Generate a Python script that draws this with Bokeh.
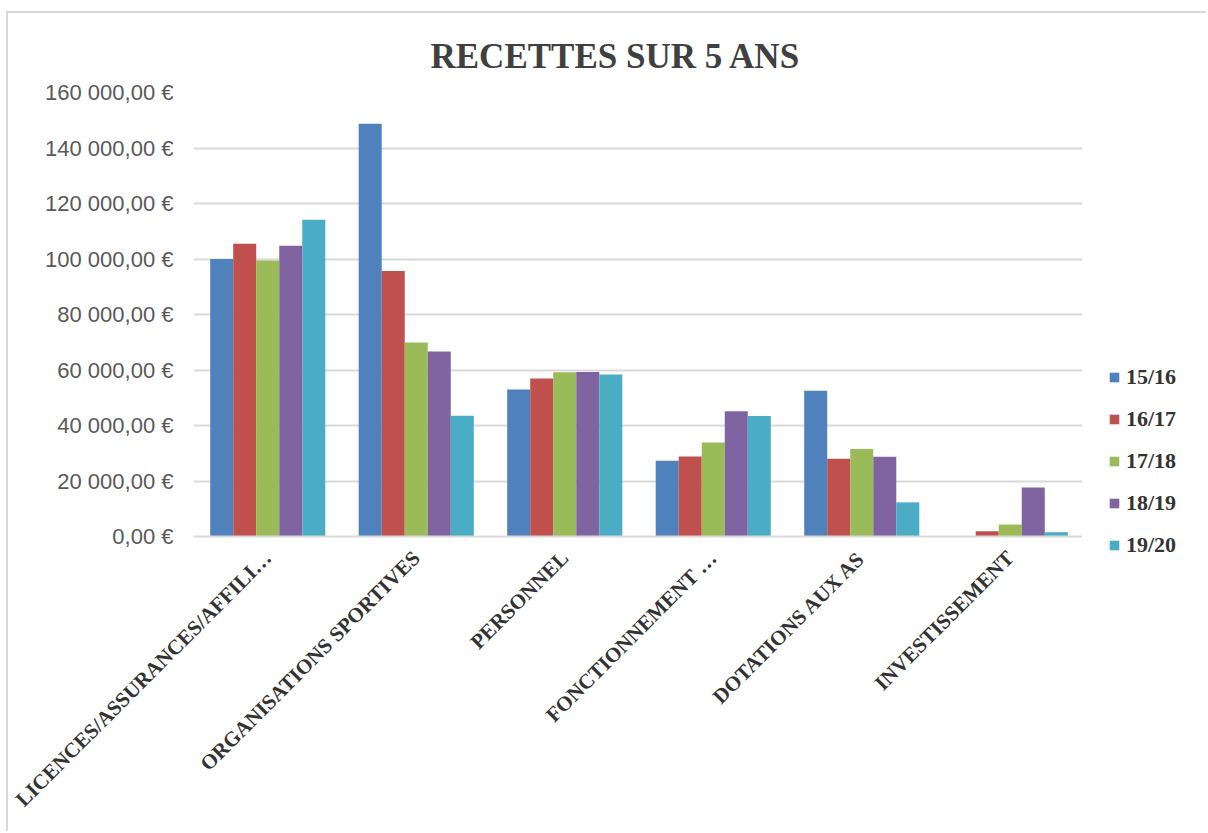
from math import pi
from bokeh.plotting import figure
from bokeh.layouts import row
from bokeh.models import FactorRange, Range1d, FixedTicker, Legend, LegendItem
from bokeh.transform import dodge
from bokeh.embed import file_html
from bokeh.resources import INLINE

categories = ["LICENCES/ASSURANCES/AFFILI…", "ORGANISATIONS SPORTIVES", "PERSONNEL",
              "FONCTIONNEMENT …", "DOTATIONS AUX AS", "INVESTISSEMENT"]
seasons = ["15/16", "16/17", "17/18", "18/19", "19/20"]
v_15_16 = [100000, 148700, 53000, 27300, 52500, 0]
v_16_17 = [105500, 95700, 56900, 28800, 28000, 1900]
v_17_18 = [99500, 69900, 59200, 33900, 31500, 4300]
v_18_19 = [104800, 66700, 59300, 45100, 28700, 17700]
v_19_20 = [114100, 43500, 58400, 43400, 12300, 1500]
y_ticks = [0, 20000, 40000, 60000, 80000, 100000, 120000, 140000, 160000]
y_tick_labels = ["0,00 €", "20 000,00 €", "40 000,00 €", "60 000,00 €", "80 000,00 €",
                 "100 000,00 €", "120 000,00 €", "140 000,00 €", "160 000,00 €"]
title_text = "RECETTES SUR 5 ANS"

series = [v_15_16, v_16_17, v_17_18, v_18_19, v_19_20]
colors = ["#4F81BD", "#C0504D", "#9BBB59", "#8064A2", "#4BACC6"]

data = {"cat": categories}
for s, vals in zip(seasons, series):
    data[s] = vals

border = "2px solid #d9d9d9"

p = figure(x_range=FactorRange(*categories, range_padding=0), y_range=Range1d(0, 160000),
           width=1076, height=820, output_backend="svg", toolbar_location=None,
           min_border_left=185, min_border_right=0, min_border_top=79, min_border_bottom=297,
           styles={"border-top": border, "border-left": border})
p.outline_line_color = None
p.background_fill_color = "white"
p.border_fill_color = "white"

p.title.text = title_text
p.title.align = "left"
p.title.offset = 237
p.title.standoff = 33
p.title.text_font = "Liberation Serif"
p.title.text_font_style = "bold"
p.title.text_font_size = "35px"
p.title.text_color = "#404040"

w = 0.155
for i, (s, c) in enumerate(zip(seasons, colors)):
    p.vbar(x=dodge("cat", (i - 2) * w, range=p.x_range), top=s, width=w, source=data,
           fill_color=c, line_color=None)

# axes
p.yaxis.ticker = FixedTicker(ticks=y_ticks)
p.yaxis.major_label_overrides = {t: l for t, l in zip(y_ticks, y_tick_labels)}
p.yaxis.axis_line_color = None
p.yaxis.major_tick_line_color = None
p.yaxis.major_tick_out = 0
p.yaxis.major_tick_in = 0
p.yaxis.minor_tick_line_color = None
p.yaxis.major_label_standoff = 20
p.yaxis.major_label_text_font = "Liberation Sans"
p.yaxis.major_label_text_font_size = "22px"
p.yaxis.major_label_text_color = "#595959"

p.xaxis.axis_line_color = "#d9d9d9"
p.xaxis.axis_line_width = 2
p.xaxis.major_tick_line_color = None
p.xaxis.major_tick_out = 0
p.xaxis.major_tick_in = 0
p.xaxis.minor_tick_line_color = None
p.xaxis.major_label_orientation = pi / 4
p.xaxis.major_label_standoff = 18
p.xaxis.major_label_text_font = "Liberation Serif"
p.xaxis.major_label_text_font_style = "bold"
p.xaxis.major_label_text_font_size = "21px"
p.xaxis.major_label_text_color = "#333333"

p.xgrid.grid_line_color = None
p.ygrid.grid_line_color = "#d9d9d9"
p.ygrid.grid_line_width = 2

# legend panel (separate narrow figure on the right)
pl = figure(x_range=Range1d(0, 1), y_range=Range1d(0, 1), width=124, height=820,
            output_backend="svg", toolbar_location=None, title=None,
            min_border_left=0, min_border_right=0, min_border_top=0, min_border_bottom=0,
            styles={"border-top": border})
pl.frame_align = False
pl.axis.visible = False
pl.grid.visible = False
pl.outline_line_color = None
pl.border_fill_color = "white"
items = []
for s, c in zip(seasons, colors):
    # zero-height swatch source (only used for the legend key)
    r = pl.vbar(x=[-5], top=[0], width=0.1, fill_color=c, line_color=None)
    items.append(LegendItem(label=s, renderers=[r]))

legend = Legend(items=items, location=(26, 273), padding=0, margin=0, spacing=12,
                glyph_width=12, glyph_height=12, label_height=30, label_standoff=6,
                label_text_font="Liberation Serif", label_text_font_style="bold",
                label_text_font_size="22px", label_text_color="#333333",
                border_line_color=None, background_fill_alpha=0)
pl.add_layout(legend)

layout = row(p, pl, styles={"margin-left": "6px", "margin-top": "11px"})

open("out.html", "w").write(file_html(layout, INLINE))
